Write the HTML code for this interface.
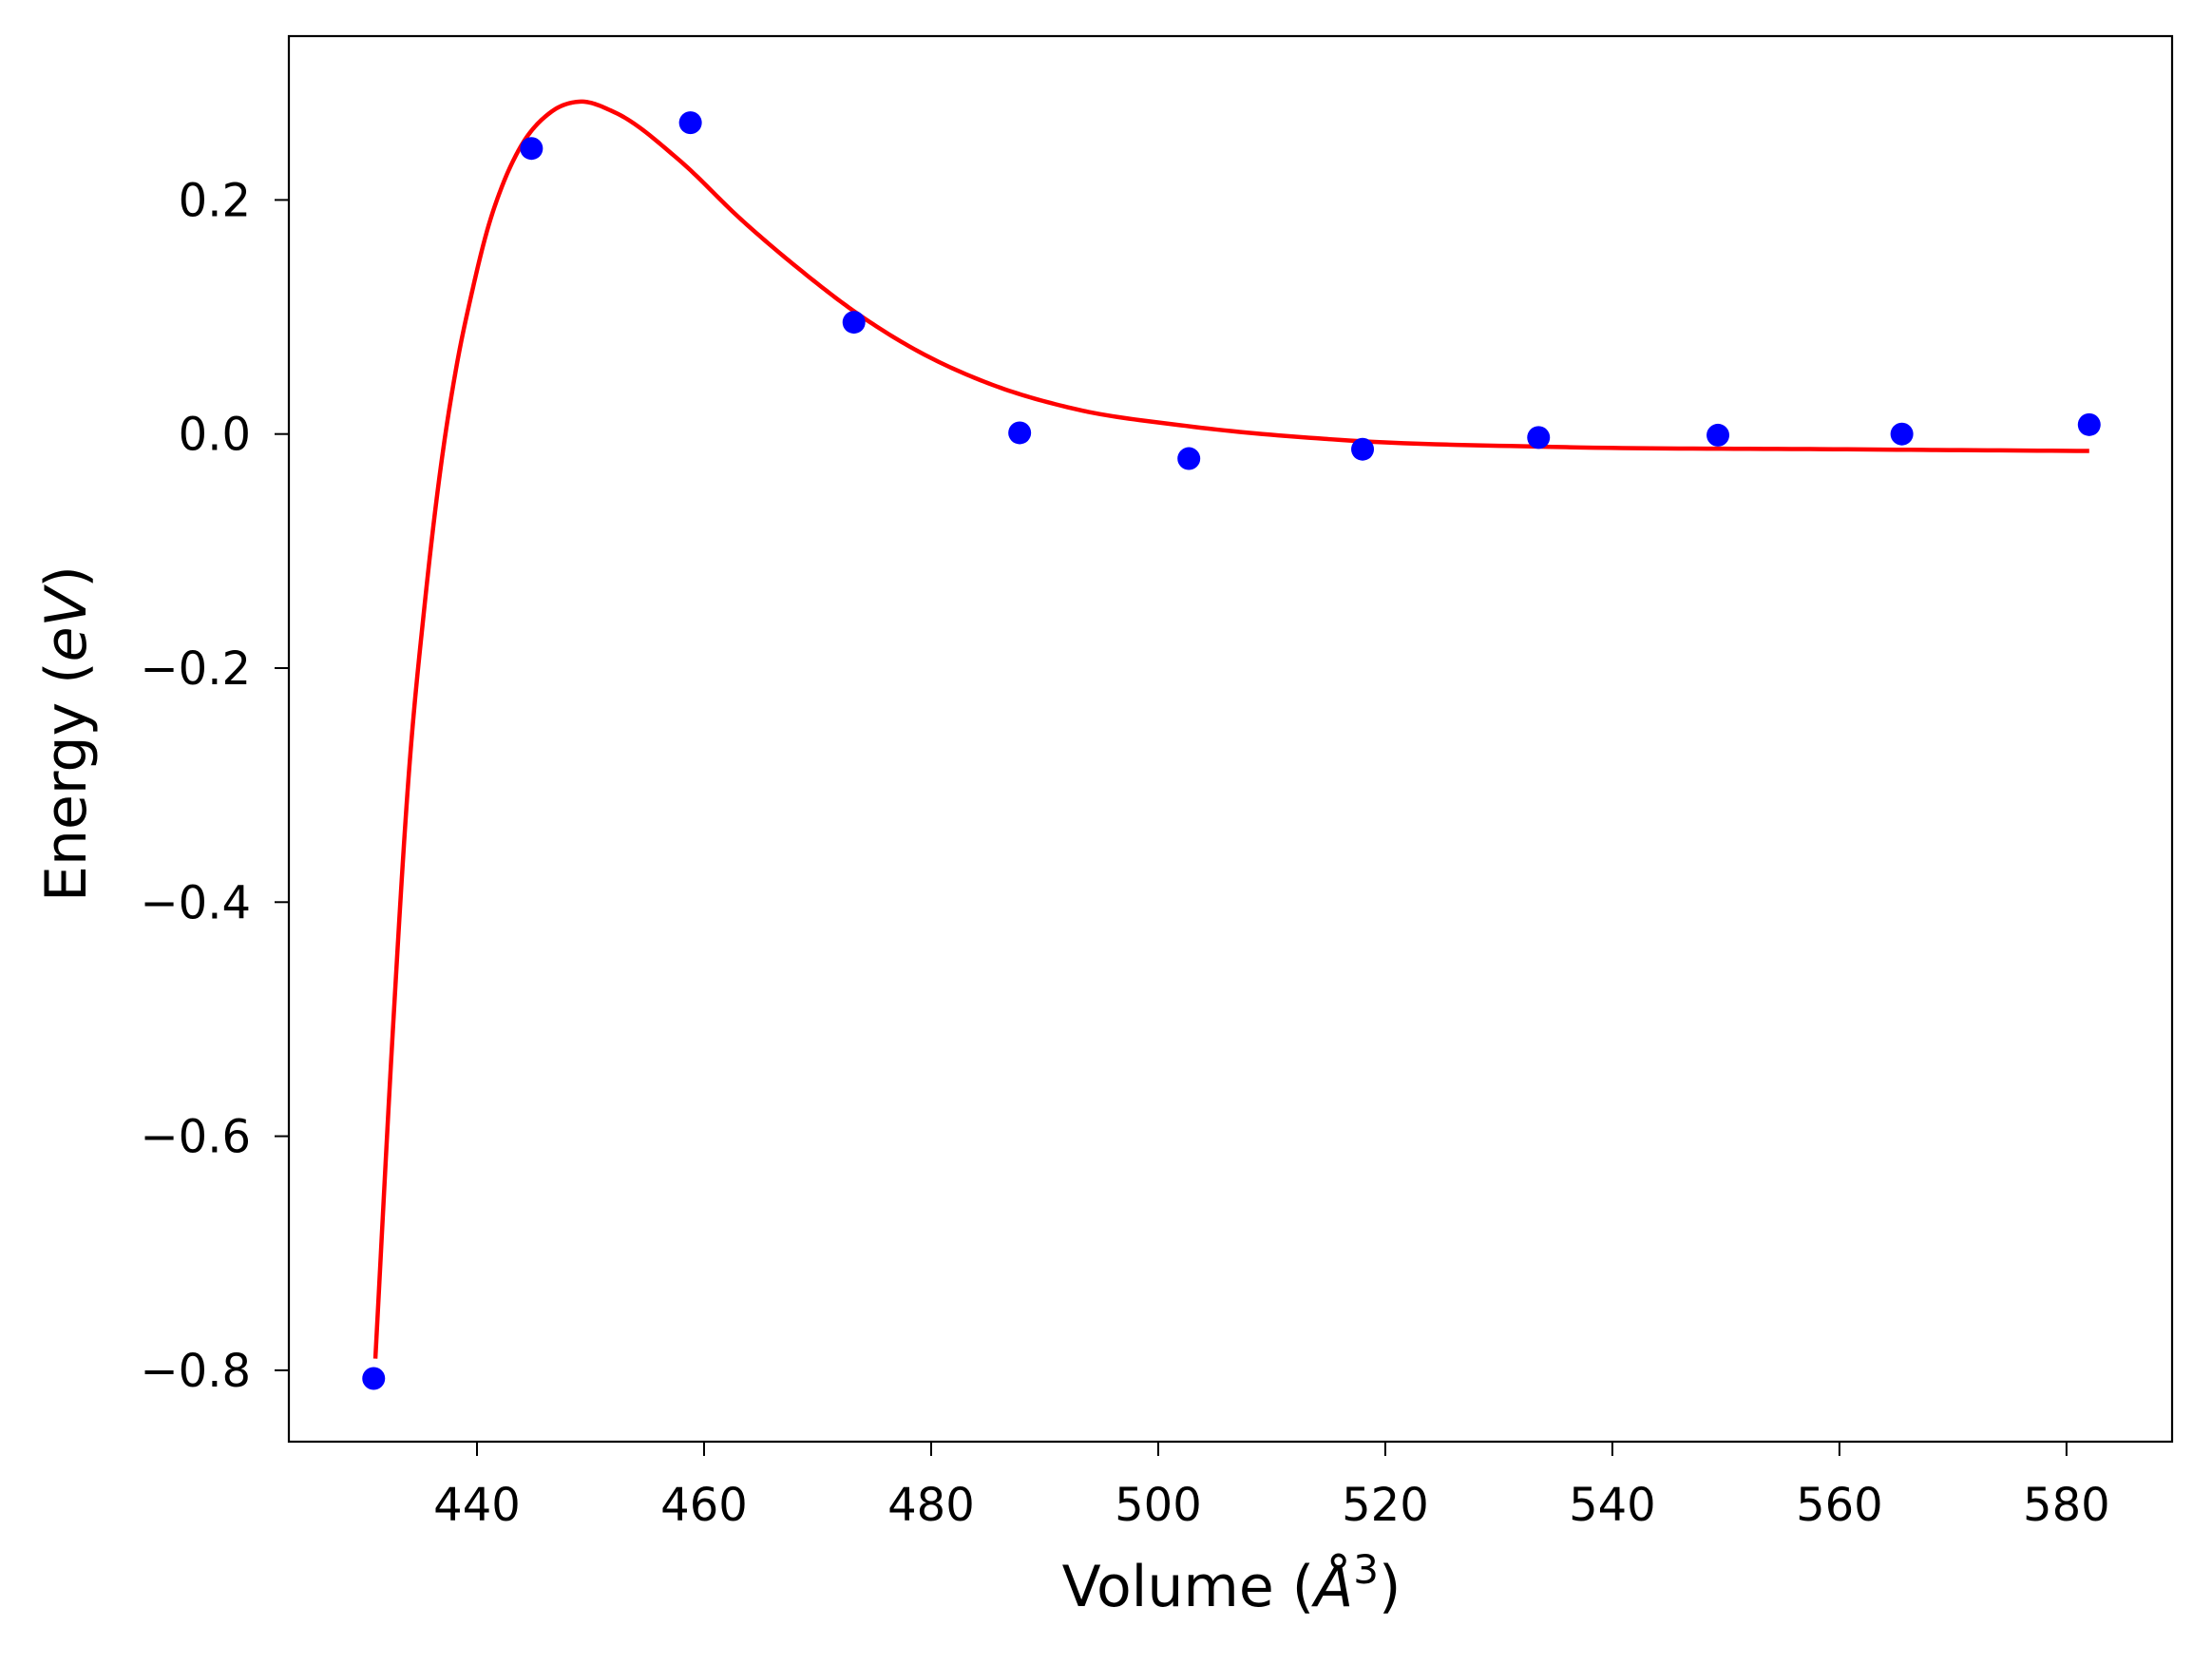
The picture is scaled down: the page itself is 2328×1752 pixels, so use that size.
<!DOCTYPE html>
<html><head><meta charset="utf-8"><style>
html,body{margin:0;padding:0;background:#fff;}
svg text{font-family:"DejaVu Sans","Liberation Sans",sans-serif;fill:#000;}
</style></head><body>
<svg id="chart" width="2328" height="1747" xmlns="http://www.w3.org/2000/svg">
<rect width="2328" height="1747" fill="#fff"/>
<g id="plot"></g>
<rect x="304" y="38" width="1982" height="1479" fill="none" stroke="#000" stroke-width="2.2"/>
<text x="1296" y="1690" font-size="60" text-anchor="middle">Volume (<tspan font-style="italic">Å</tspan><tspan font-size="42" dy="-24">3</tspan><tspan dy="24">)</tspan></text>
<text transform="translate(90,772) rotate(-90)" font-size="60" text-anchor="middle">Energy (<tspan font-style="italic">eV</tspan>)</text>
</svg>
<script>
const xTicks = [440,460,480,500,520,540,560,580];
const yTicks = [0.2,0.0,-0.2,-0.4,-0.6,-0.8];
const yTickLabels = ["0.2","0.0","\u22120.2","\u22120.4","\u22120.6","\u22120.8"];
const pointVolumes = [430.9,444.8,458.8,473.2,487.8,502.7,518.0,533.5,549.3,565.5,582.0];
const pointEnergies = [-0.807,0.244,0.266,0.0955,0.001,-0.021,-0.013,-0.003,-0.001,0.0,0.008];
const fitVolumes = [431.05,432.6,434.0,435.4,436.8,438.2,439.6,440.9,442.3,443.7,446.5,449.0,452.1,457.7,463.3,468.5,473.2,478.8,485.0,492.4,502.4,516.0,534.7,559.5,582.0];
const fitEnergies = [-0.790,-0.508,-0.290,-0.145,-0.029,0.058,0.123,0.174,0.214,0.243,0.275,0.284,0.275,0.235,0.183,0.140,0.105,0.071,0.0435,0.022,0.007,-0.005,-0.011,-0.013,-0.0145];

const X0=304, X1=2286, Y0=38, Y1=1517;
const xMin=423.43, xMax=589.3, yMin=-0.861, yMax=0.340;
const sx=v=>X0+(v-xMin)/(xMax-xMin)*(X1-X0);
const sy=v=>Y1-(v-yMin)/(yMax-yMin)*(Y1-Y0);
const NS="http://www.w3.org/2000/svg";
const g=document.getElementById('plot');
function mk(tag,attrs){const e=document.createElementNS(NS,tag);for(const k in attrs)e.setAttribute(k,attrs[k]);g.appendChild(e);return e;}

xTicks.forEach(t=>{
  const l=mk('line',{x1:sx(t),x2:sx(t),y1:Y1,y2:Y1+15,stroke:'#000','stroke-width':2});
  
  
  const tx=mk('text',{x:sx(t),y:Y1+83,'font-size':48,'text-anchor':'middle'});
  tx.textContent=t;
  
  
});
yTicks.forEach((t,i)=>{
  const l=mk('line',{x1:X0-15,x2:X0,y1:sy(t),y2:sy(t),stroke:'#000','stroke-width':2});
  
  
  const tx=mk('text',{x:X0-40,y:sy(t)+17,'font-size':48,'text-anchor':'end'});
  tx.textContent=yTickLabels[i];
  
  
});

// cubic Hermite interpolation in data space with finite-difference slopes
const n=fitVolumes.length;
const m=fitVolumes.map((x,i)=>{
  if(i===0) return (fitEnergies[1]-fitEnergies[0])/(fitVolumes[1]-fitVolumes[0]);
  if(i===n-1) return (fitEnergies[n-1]-fitEnergies[n-2])/(fitVolumes[n-1]-fitVolumes[n-2]);
  const d0=(fitEnergies[i]-fitEnergies[i-1])/(x-fitVolumes[i-1]);
  const d1=(fitEnergies[i+1]-fitEnergies[i])/(fitVolumes[i+1]-x);
  const h0=x-fitVolumes[i-1], h1=fitVolumes[i+1]-x;
  return (d0*h1+d1*h0)/(h0+h1);
});
let d='';
for(let i=0;i<n-1;i++){
  const x0=fitVolumes[i],x1=fitVolumes[i+1],y0=fitEnergies[i],y1=fitEnergies[i+1],h=x1-x0;
  const steps=20;
  for(let k=(i===0?0:1);k<=steps;k++){
    const t=k/steps,t2=t*t,t3=t2*t;
    const y=(2*t3-3*t2+1)*y0+(t3-2*t2+t)*h*m[i]+(-2*t3+3*t2)*y1+(t3-t2)*h*m[i+1];
    const x=x0+t*h;
    d+=(d?' L':'M')+sx(x).toFixed(2)+','+sy(y).toFixed(2);
  }
}
const path=mk('path',{d:d,fill:'none',stroke:'#ff0000','stroke-width':4.5,'stroke-linejoin':'round'});



pointVolumes.forEach((v,i)=>{
  const c=mk('circle',{cx:sx(v),cy:sy(pointEnergies[i]),r:12,fill:'#0000ff'});
  
  
});
</script>
</body></html>
